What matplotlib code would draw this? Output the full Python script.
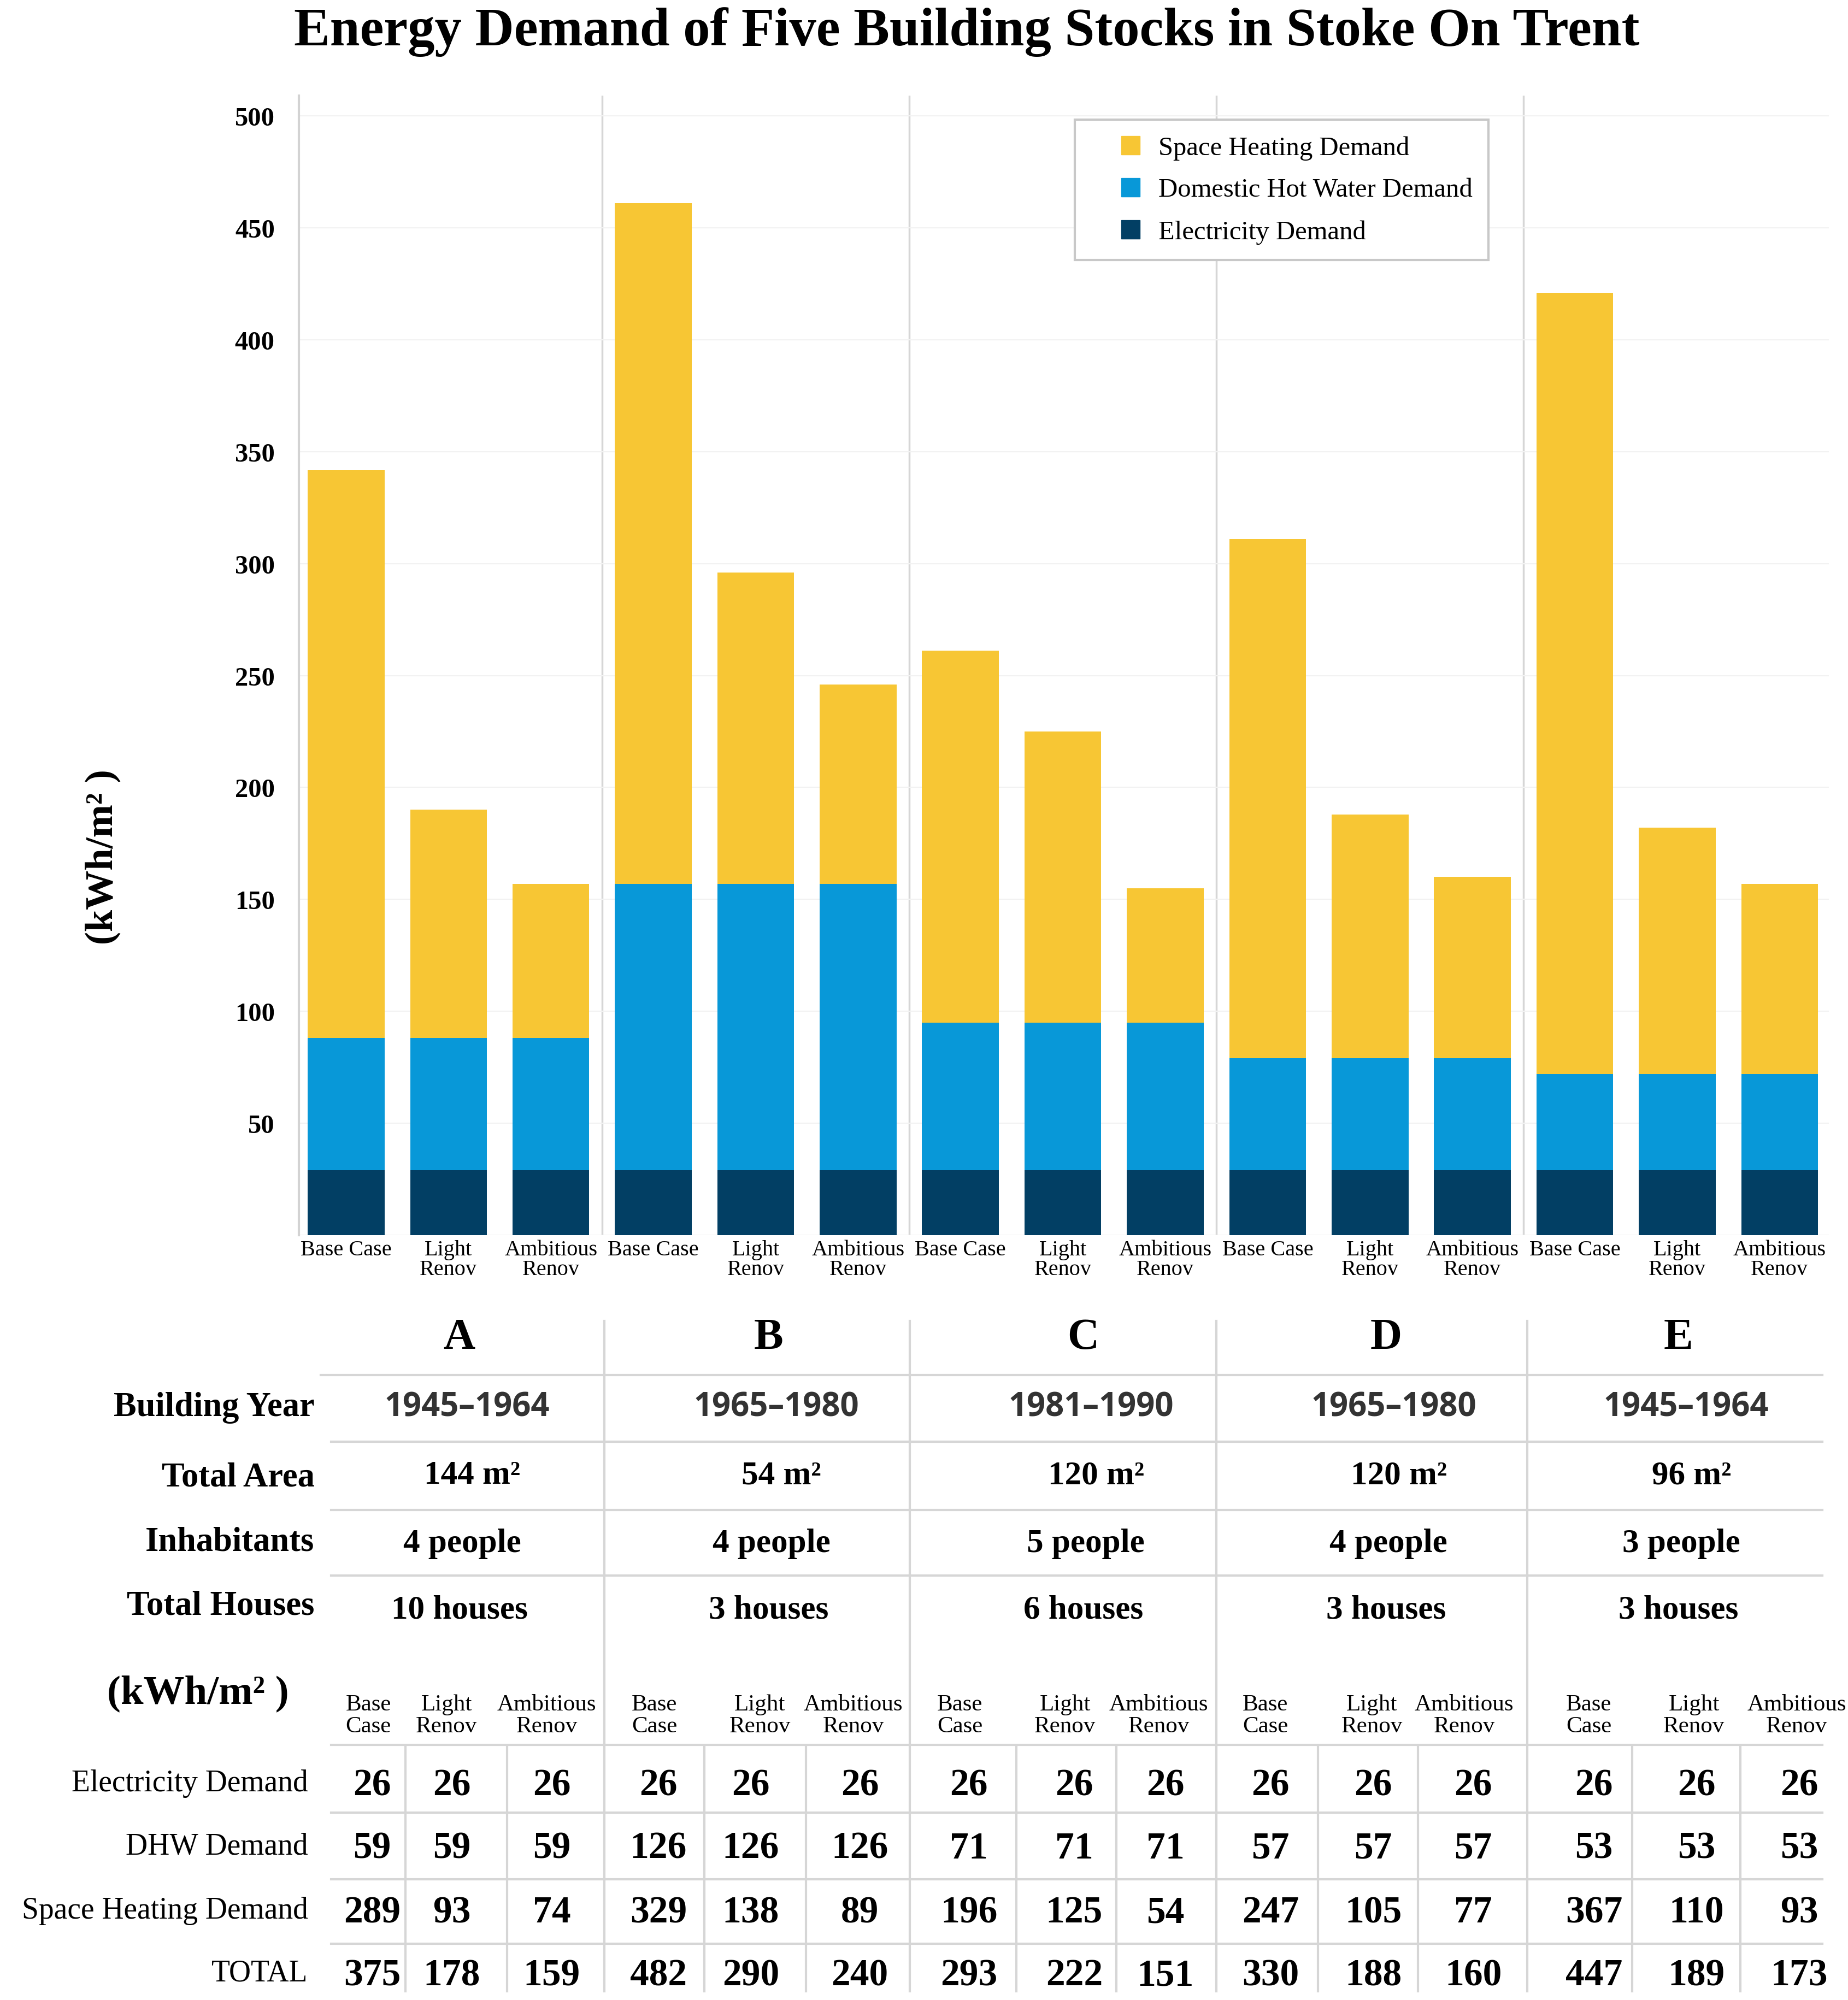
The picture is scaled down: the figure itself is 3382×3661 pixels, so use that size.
import matplotlib.pyplot as plt
from matplotlib.lines import Line2D

# ---- data -------------------------------------------------------------
stocks = ['A', 'B', 'C', 'D', 'E']
scen_ticks = ['Base Case', 'Light\nRenov', 'Ambitious\nRenov']
scen_head = ['Base\nCase', 'Light\nRenov', 'Ambitious\nRenov']

# bar segments as drawn in the chart (kWh/m2)
elec_bar = [29, 29, 29, 29, 29, 29, 29, 29, 29, 29, 29, 29, 29, 29, 29]
dhw_bar = [59, 59, 59, 128, 128, 128, 66, 66, 66, 50, 50, 50, 43, 43, 43]
sh_bar = [254, 102, 69, 304, 139, 89, 166, 130, 60, 232, 109, 81, 349, 110, 85]

# table values
years = ['1945–1964', '1965–1980', '1981–1990', '1965–1980', '1945–1964']
areas = ['144 m²', '54 m²', '120 m²', '120 m²', '96 m²']
people = ['4 people', '4 people', '5 people', '4 people', '3 people']
houses = ['10 houses', '3 houses', '6 houses', '3 houses', '3 houses']
elec_tab = [26, 26, 26, 26, 26, 26, 26, 26, 26, 26, 26, 26, 26, 26, 26]
dhw_tab = [59, 59, 59, 126, 126, 126, 71, 71, 71, 57, 57, 57, 53, 53, 53]
sh_tab = [289, 93, 74, 329, 138, 89, 196, 125, 54, 247, 105, 77, 367, 110, 93]
total_tab = [375, 178, 159, 482, 290, 240, 293, 222, 151, 330, 188, 160, 447, 189, 173]

yellow = '#F7C634'
blue = '#0898D8'
navy = '#023F64'
grid = '#d6d6d6'
serif = 'Liberation Serif'

plt.rcParams['font.family'] = serif

fig = plt.figure(figsize=(33.82, 36.62), dpi=100)

# overlay in reference pixel units (1440 x 1559) for the table part
W, H = 1440, 1559
ov = fig.add_axes([0, 0, 1, 1])
ov.set_xlim(0, W)
ov.set_ylim(H, 0)
ov.axis('off')

# ---- chart ------------------------------------------------------------
ax = fig.add_axes([233 / W, 1 - 963 / H, (1425 - 233) / W, (963 - 75) / H])
x = list(range(15))
bot2 = [e + d for e, d in zip(elec_bar, dhw_bar)]
ax.bar(x, elec_bar, width=0.75, color=navy, zorder=3)
ax.bar(x, dhw_bar, width=0.75, bottom=elec_bar, color=blue, zorder=3)
ax.bar(x, sh_bar, width=0.75, bottom=bot2, color=yellow, zorder=3)

ax.set_xlim(-0.46, 14.48)
ax.set_ylim(0, 509)
ax.set_yticks(range(50, 501, 50))
ax.set_yticklabels([str(v) for v in range(50, 501, 50)], fontsize=35, fontweight='bold')
ax.set_xticks(x)
ax.set_xticklabels(scen_ticks * 5, fontsize=29, linespacing=0.95)
ax.tick_params(axis='both', length=0)
ax.tick_params(axis='y', pad=32)
ax.tick_params(axis='x', pad=6)
for s in ['top', 'right', 'bottom']:
    ax.spines[s].set_visible(False)
ax.spines['left'].set_color('#d3d3d3')
ax.spines['left'].set_linewidth(3)
ax.grid(axis='y', color='#f2f2f2', linewidth=1.5, zorder=0)
for sep in [2.5, 5.5, 8.5, 11.5]:
    ax.axvline(sep, color=grid, linewidth=2.5, zorder=1)
ax.axhline(0, color='#eeeeee', linewidth=2, zorder=1)

handles = [Line2D([], [], marker='s', linestyle='', markersize=24, color=c, label=l)
           for c, l in [(yellow, 'Space Heating Demand'),
                        (blue, 'Domestic Hot Water Demand'),
                        (navy, 'Electricity Demand')]]
leg = ax.legend(handles=handles, loc='upper left', bbox_to_anchor=(0.507, 0.979),
                fontsize=35, handlelength=3.0, handletextpad=-0.45,
                labelspacing=0.68, borderpad=0.6, borderaxespad=0, fancybox=False,
                edgecolor='#c8c8c8', framealpha=1)
leg.get_frame().set_linewidth(3)

fig.text(0.523, 1 - 25 / H, 'Energy Demand of Five Building Stocks in Stoke On Trent',
         ha='center', va='center', fontsize=71, fontweight='bold')
ov.text(80, 668, '(kWh/m² )', rotation=90, ha='center', va='center',
        fontsize=52, fontweight='bold')

# ---- table ------------------------------------------------------------
line_kw = dict(color=grid, linewidth=3, zorder=1)
for yy, x0 in [(1072, 250), (1124, 258), (1177, 258), (1228, 258),
               (1360, 258), (1413, 258), (1465, 258), (1515, 258)]:
    ov.plot([x0, 1420], [yy, yy], **line_kw)
for xx in [471, 709, 948, 1190]:
    ov.plot([xx, xx], [1030, 1552], **line_kw)
for xx in [316, 395, 549, 628, 792, 870, 1027, 1105, 1272, 1356]:
    ov.plot([xx, xx], [1362, 1552], **line_kw)

letter_x = [358, 599, 844, 1080, 1308]
for lx, s, yr, ar, pe, ho in zip(letter_x, stocks, years, areas, people, houses):
    ov.text(lx, 1043, s, ha='center', va='center', fontsize=58, fontweight='bold')
    ov.text(lx + 6, 1097, yr, ha='center', va='center', fontsize=43,
            fontweight='bold', family='Open Sans', color='#333333')
    ov.text(lx + 10, 1150, ar, ha='center', va='center', fontsize=44, fontweight='bold')
    ov.text(lx + 2, 1203, pe, ha='center', va='center', fontsize=44, fontweight='bold')
    ov.text(lx, 1255, ho, ha='center', va='center', fontsize=44, fontweight='bold')

for yy, s in [(1097, 'Building Year'), (1152, 'Total Area'),
              (1202, 'Inhabitants'), (1252, 'Total Houses')]:
    ov.text(245, yy, s, ha='right', va='center', fontsize=45, fontweight='bold')

ov.text(225, 1320, '(kWh/m² )', ha='right', va='center', fontsize=54, fontweight='bold')

col_x = [290, 352, 430, 513, 585, 670, 755, 837, 908, 990, 1070, 1148, 1242, 1322, 1402]
head_x = [287, 348, 426, 510, 592, 665, 748, 830, 903, 986, 1069, 1141, 1238, 1320, 1400]
for i in range(15):
    ov.text(head_x[i], 1337, scen_head[i % 3], ha='center', va='center',
            fontsize=31, linespacing=1.05)

rows = [(1392, 'Electricity Demand', elec_tab),
        (1441, 'DHW Demand', dhw_tab),
        (1491, 'Space Heating Demand', sh_tab),
        (1540, 'TOTAL', total_tab)]
for yy, label, vals in rows:
    ov.text(240, yy - 2, label, ha='right', va='center', fontsize=40)
    for cx, v in zip(col_x, vals):
        ov.text(cx, yy, str(v), ha='center', va='center', fontsize=50, fontweight='bold')

fig.savefig('out.png', dpi=100)
